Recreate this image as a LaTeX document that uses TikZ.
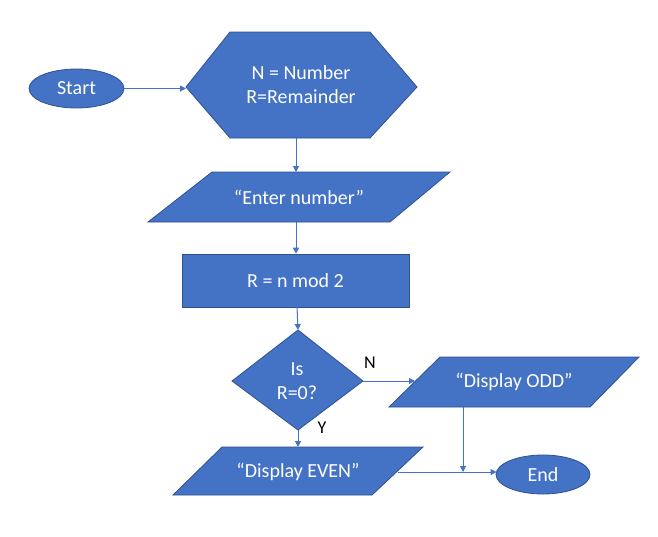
\documentclass[tikz,border=0pt]{standalone}
\usepackage{fontspec}
\setmainfont{Carlito}
\usetikzlibrary{arrows.meta,shapes.geometric}
\definecolor{fillblue}{HTML}{4472C4}
\definecolor{edgeblue}{HTML}{2F528F}
\begin{document}
\begin{tikzpicture}[x=1pt,y=-1pt,
  shp/.style={fill=fillblue,draw=edgeblue,line width=0.8pt},
  lbl/.style={text=white,font=\fontsize{20}{24}\selectfont,align=center},
  conn/.style={draw=fillblue,line width=1pt,-{Triangle[width=6pt,length=6pt]}},
  yn/.style={font=\fontsize{18}{20}\selectfont,text=black}]
\useasboundingbox[fill=white] (0,0) rectangle (658,536);

% Start
\node[ellipse,shp,minimum width=95pt,minimum height=39pt,inner sep=0pt,lbl] (start) at (76.5,88.5) {Start};

% Hexagon
\draw[shp] (186,87) -- (230,32) -- (370,32) -- (417,87) -- (370,138) -- (230,138) -- cycle;
\node[lbl] (hex) at (301,85) {N = Number\\R=Remainder};
\coordinate (hexW) at (186,88.5);
\coordinate (hexS) at (296,138);

% Enter number
\draw[shp] (148,222) -- (212,172) -- (450,172) -- (390,222) -- cycle;
\node[lbl] (enter) at (299,197) {“Enter number”};
\coordinate (entN) at (296,172);
\coordinate (entS) at (296,222);

% R = n mod 2
\node[rectangle,shp,minimum width=227pt,minimum height=53pt,inner sep=0pt,lbl] (calc) at (295.5,280.5) {R = n mod 2};
\coordinate (calcS) at (297,307);

% Decision
\draw[shp] (298,330) -- (363,381) -- (298,430) -- (232,381) -- cycle;
\node[lbl] (dec) at (297,381) {Is\\R=0?};
\coordinate (decN) at (298,330);
\coordinate (decE) at (363,381);
\coordinate (decS) at (298,430);

% Display ODD
\draw[shp] (389,407) -- (440,357) -- (639,357) -- (590,407) -- cycle;
\node[lbl] (odd) at (514,382) {“Display ODD”};
\coordinate (oddW) at (415,381);
\coordinate (oddS) at (463,407);

% Display EVEN
\draw[shp] (173,495) -- (222,447) -- (423,447) -- (372,495) -- cycle;
\node[lbl] (even) at (298,472) {“Display EVEN”};
\coordinate (evenN) at (298,447);
\coordinate (evenE) at (398,472);

% End
\node[ellipse,shp,minimum width=94pt,minimum height=39pt,inner sep=0pt,lbl] (end) at (543,474.5) {End};
\coordinate (endW) at (496.5,472);
\coordinate (join) at (463,472);

% Connectors
\draw[conn] (start.east) -- (hexW);
\draw[conn] (hexS) -- (entN);
\draw[conn] (entS) -- (entS |- calc.north);
\draw[conn] (calcS) -- (decN);
\draw[conn] (decE) -- (oddW);
\draw[conn] (decS) -- (evenN);
\draw[conn] (evenE) -- (endW);
\draw[conn] (oddS) -- (join);

% Labels
\node[yn] (nlab) at (370,363) {N};
\node[yn] (ylab) at (322,428) {Y};
\end{tikzpicture}
\end{document}
